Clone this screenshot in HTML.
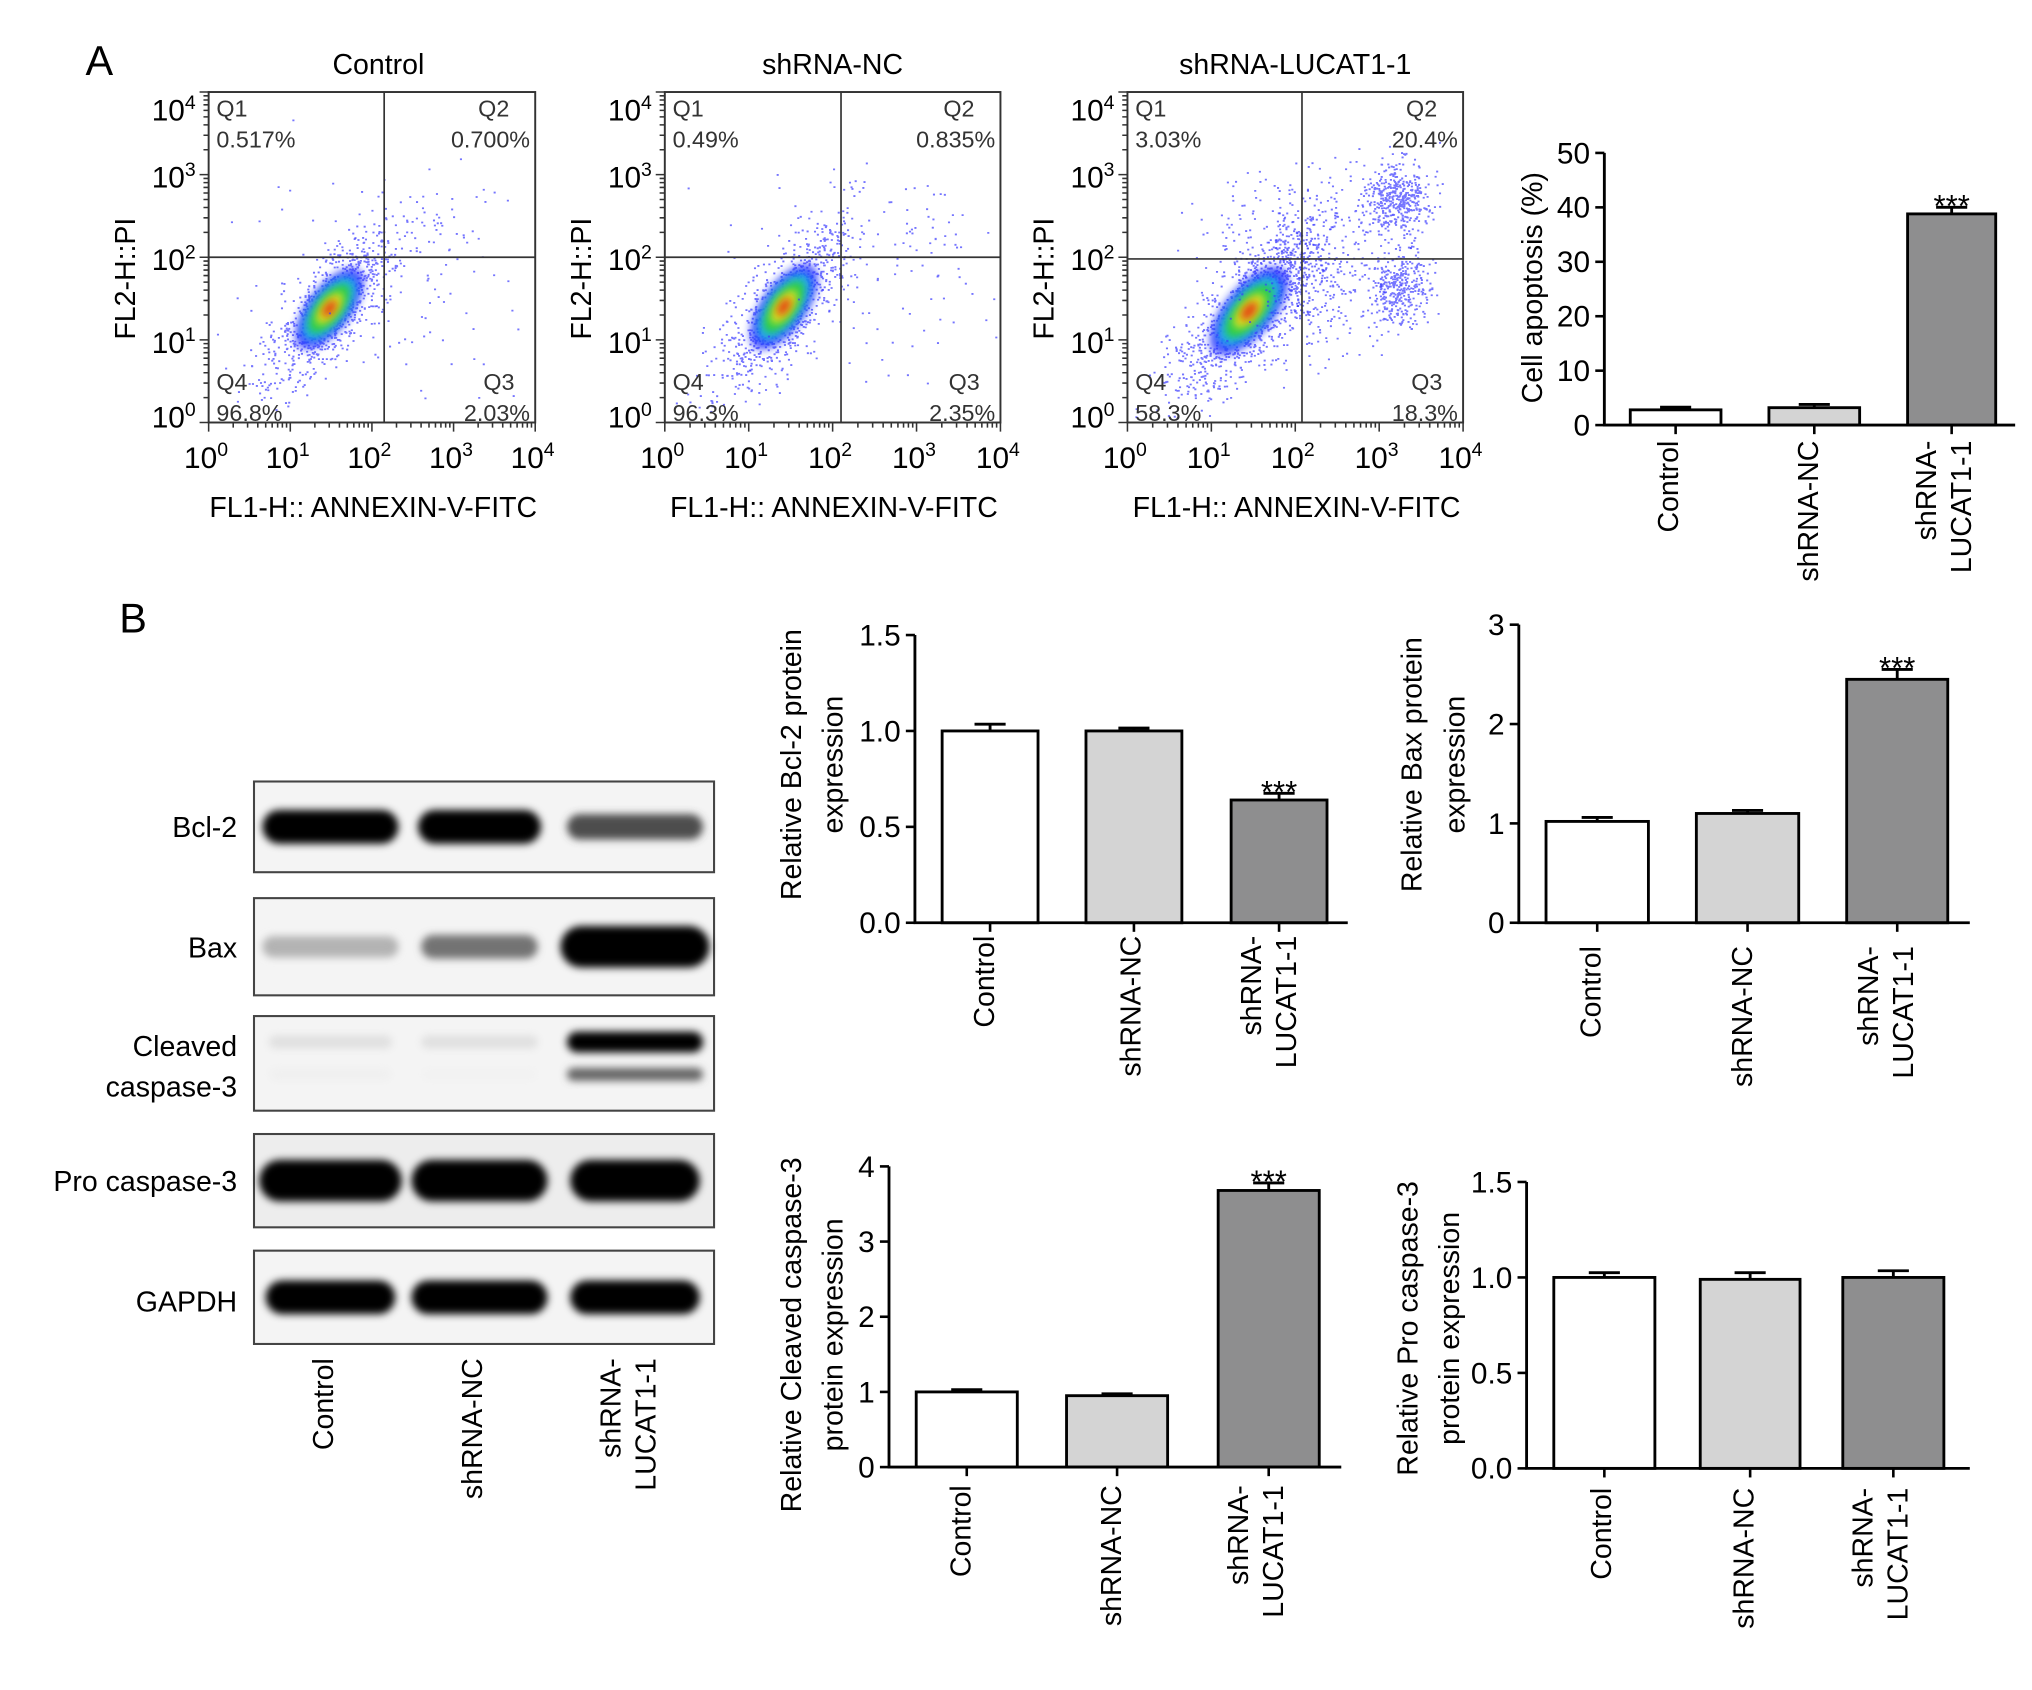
<!DOCTYPE html>
<html><head><meta charset="utf-8"><style>
html,body{margin:0;padding:0;background:#fff;}
svg{display:block;font-family:"Liberation Sans",Arial,sans-serif;}
</style></head><body>
<svg id="fig" width="2032" height="1690" viewBox="0 0 1568 1304" preserveAspectRatio="none" xmlns="http://www.w3.org/2000/svg">
<defs>
<filter id="blur2" x="-30%" y="-60%" width="160%" height="220%"><feGaussianBlur stdDeviation="3"/></filter>
<filter id="blur4" x="-50%" y="-50%" width="200%" height="200%"><feGaussianBlur stdDeviation="5"/></filter>
</defs>
<rect width="1568" height="1304" fill="#fff"/>
<text x="66" y="58" font-size="32">A</text>
<text x="92" y="488" font-size="32">B</text>
<g id="flow"></g>
<g id="blot"></g>
<g id="bars"></g>
</svg>
<script>
const NS="http://www.w3.org/2000/svg";
function mk(parent,tag,attrs,txt){const e=document.createElementNS(NS,tag);for(const k in attrs)e.setAttribute(k,attrs[k]);if(txt!==undefined)e.textContent=txt;parent.appendChild(e);return e;}

/* ---------------- Flow cytometry data ---------------- */
const flowTitles=["Control","shRNA-NC","shRNA-LUCAT1-1"];
const flowQ1=["0.517%","0.49%","3.03%"];
const flowQ2=["0.700%","0.835%","20.4%"];
const flowQ3=["2.03%","2.35%","18.3%"];
const flowQ4=["96.8%","96.3%","58.3%"];
const flowGateX=[2.15,2.1,2.08];
const flowGateY=[2.0,2.0,1.98];
// clusters: [plot, logx, logy, spreadMajor(decades), spreadMinor, angleDeg, count, core]
const flowClusters=[
 [0,1.48,1.38,0.6,0.22,-52,900,1],[0,2.9,2.4,0.35,0.3,0,40,0],[0,2.5,1.3,0.8,0.6,0,60,0],[0,1.3,2.4,0.6,0.4,0,15,0],
 [1,1.42,1.4,0.6,0.22,-55,900,1],[1,3.0,2.3,0.4,0.35,0,40,0],[1,2.7,1.4,0.7,0.5,0,60,0],[1,1.4,2.4,0.6,0.4,0,15,0],
 [2,1.45,1.35,0.65,0.24,-50,1100,1],[2,3.2,2.72,0.2,0.22,0,450,0],[2,3.25,1.62,0.18,0.22,0,350,0],[2,1.8,2.2,0.5,0.4,0,220,0],[2,2.3,1.6,0.45,0.45,0,250,0]
];
const flowBoxes=[[161,413,71,326],[513,772,71,326],[870,1129,71,326]];

let seed=12345;function rnd(){seed=(seed*1103515245+12345)%2147483648;return seed/2147483648;}
function gauss(){let u=rnd()||1e-6,v=rnd();return Math.sqrt(-2*Math.log(u))*Math.cos(2*Math.PI*v);}

const flow=document.getElementById('flow');
flowBoxes.forEach((b,i)=>{
 const [x0,x1,y0,y1]=b;const dx=(x1-x0)/4,dy=(y1-y0)/4;
 const sx=l=>x0+l*dx, sy=l=>y1-l*dy;
 const g=mk(flow,'g',{});
 
 
 const t=mk(g,'text',{x:(x0+x1)/2+(i==0?5:0),y:57,'font-size':22,'text-anchor':'middle'},flowTitles[i]);
 
 
 const dots=mk(g,'g',{});
 
 
 flowClusters.filter(c=>c[0]===i).forEach(c=>{
  const [p,lx,ly,sa,sb,ang,n,core]=c;const a=ang*Math.PI/180;
  let s='';
  for(let k=0;k<n;k++){const u=gauss()*sa,v=gauss()*sb;const X=lx+u*Math.cos(a)-v*Math.sin(a);const Y=ly-(u*Math.sin(a)+v*Math.cos(a));
   if(X<0.05||X>3.95||Y<0.05||Y>3.95)continue;s+=`M${sx(X).toFixed(1)} ${sy(Y).toFixed(1)}h1.6`;}
  mk(dots,'path',{d:s,stroke:'#3a3aff','stroke-width':1.4,'stroke-opacity':0.7});
  if(core){
   const cx=sx(lx),cy=sy(ly);
   const layers=[[sa*0.9,sb*1.1,'#2030ff',0.8],[sa*0.7,sb*0.85,'#18b8e8',0.9],[sa*0.55,sb*0.65,'#30d040',0.95],[sa*0.35,sb*0.45,'#e8e020',0.9],[sa*0.18,sb*0.25,'#e83010',0.9]];
   layers.forEach(L=>{mk(dots,'ellipse',{cx:cx,cy:cy,rx:L[0]*dx*1.1,ry:L[1]*dx*1.1,fill:L[2],'fill-opacity':L[3],transform:`rotate(${ang} ${cx} ${cy})`,filter:'url(#blur2)'});});
  }
 });
 const box=mk(g,'rect',{x:x0,y:y0,width:x1-x0,height:y1-y0,fill:'none',stroke:'#333','stroke-width':1.5});
 
 
 mk(g,'line',{x1:sx(flowGateX[i]),x2:sx(flowGateX[i]),y1:y0,y2:y1,stroke:'#333','stroke-width':1.3});
 mk(g,'line',{x1:x0,x2:x1,y1:sy(flowGateY[i]),y2:sy(flowGateY[i]),stroke:'#333','stroke-width':1.3});
 let tk='';
 for(let d=0;d<4;d++)for(let m=1;m<10;m++){const l=d+Math.log10(m);const len=m==1?7:4;tk+=`M${sx(l)} ${y1}v${len}M${x0} ${sy(l)}h-${len}`;}
 tk+=`M${x1} ${y1}v7M${x0} ${y0}h-7`;
 mk(g,'path',{d:tk,stroke:'#333','stroke-width':1.2,fill:'none'});
 const ql=[["Q1",flowQ1[i],x0+6,'start',86],["Q2",flowQ2[i],x1-4,'end',86],["Q4",flowQ4[i],x0+6,'start',297],["Q3",flowQ3[i],x1-4,'end',297]];
 ql.forEach(q=>{
  const a=mk(g,'text',{x:q[3]=='end'?q[2]-(q[0]=='Q3'?36:40):q[2],y:q[4]+4,'font-size':18,fill:'#333'},q[0]);
  
  
  const b2=mk(g,'text',{x:q[2],y:q[4]+28,'font-size':18,'text-anchor':q[3],fill:'#333'},q[1]);
  
  
 });
 for(let d=0;d<=4;d++){
  const yt=mk(g,'text',{x:x0-10,y:sy(d)+(d==4?22:d==0?4:10),'font-size':23,'text-anchor':'end'});
  
  
  yt.textContent='10';mk(yt,'tspan',{dy:-9,'font-size':15},String(d));
  const xt=mk(g,'text',{x:sx(d)-2,y:361,'font-size':23,'text-anchor':'middle'});
  
  
  xt.textContent='10';mk(xt,'tspan',{dy:-9,'font-size':15},String(d));
 }
 const xtit=mk(g,'text',{x:(x0+x1)/2+1,y:399,'font-size':22,'text-anchor':'middle'},'FL1-H:: ANNEXIN-V-FITC');
 
 
 const ytit=mk(g,'text',{x:0,y:0,'font-size':22,'text-anchor':'middle',transform:`translate(${x0-57} ${215}) rotate(-90)`},'FL2-H::PI');
 
 
});

/* ---------------- Western blot ---------------- */
const blotRows=["Bcl-2","Bax","Cleaved caspase-3","Pro caspase-3","GAPDH"];
const blotBoxY=[[603,673],[693,768],[784,857],[875,947],[965,1037]];
const blotBand=[[1,1,0.7],[0.3,0.55,1],[0.12,0.12,1],[1,1,1],[1,1,1]];
const blotLower=[0.06,0.05,0.6];
const laneX=[255,370,490];
const laneW=[[105,95,105],[105,90,115],[95,90,105],[110,105,100],[100,105,100]];
const blot=document.getElementById('blot');
blotRows.forEach((r,i)=>{
 const [ya,yb]=blotBoxY[i];
 const g=mk(blot,'g',{});
 
 
 mk(g,'rect',{x:196,y:ya,width:355,height:yb-ya,fill:i==3?'#ededed':'#f4f4f4',stroke:'#444','stroke-width':1.6});
 const yc=(ya+yb)/2;
 laneX.forEach((lx,j)=>{
  const v=blotBand[i][j];const w=laneW[i][j];
  let bh=v>0.9?26:14+v*8; let by=yc;
  if(i==2){by=ya+20;bh=v>0.9?16:10;}
  if(i==1&&j==2)bh=32;
  if(i==3)bh=32;
  const gv=Math.round(255*(1-v));
  mk(g,'rect',{x:lx-w/2,y:by-bh/2,width:w,height:bh,rx:bh/2,fill:`rgb(${gv},${gv},${gv})`,filter:'url(#blur2)'});
  if(i==2){const lv=blotLower[j];const gl=Math.round(255*(1-lv));mk(g,'rect',{x:lx-w/2,y:ya+40,width:w,height:10,rx:5,fill:`rgb(${gl},${gl},${gl})`,filter:'url(#blur2)'});}
 });
});
[["Bcl-2",646],["Bax",739],["Cleaved",815],["caspase-3",846],["Pro caspase-3",919],["GAPDH",1012]].forEach(l=>{
 const t=mk(blot,'text',{x:183,y:l[1],'font-size':22,'text-anchor':'end'},l[0]);
 
 
});
const groupNames=["Control","shRNA-NC","shRNA-LUCAT1-1"];
function rotLabel(parent,cx,ytop,idx){
 if(idx<2){const t=mk(parent,'text',{x:0,y:0,'font-size':22,'text-anchor':'end',transform:`translate(${cx+7} ${ytop}) rotate(-90)`},groupNames[idx]);
  
  }
 else{const t=mk(parent,'text',{x:0,y:0,'font-size':22,'text-anchor':'end',transform:`translate(${cx-6} ${ytop}) rotate(-90)`},'shRNA-');
  
  
  const t2=mk(parent,'text',{x:0,y:0,'font-size':22,'text-anchor':'end',transform:`translate(${cx+21} ${ytop}) rotate(-90)`},'LUCAT1-1');
  
  }
}
laneX.forEach((x,i)=>rotLabel(blot,x-5,1048,i));

/* ---------------- Bar charts ---------------- */
const barFills=["#ffffff","#d4d4d4","#8e8e8f"];
const apopMeans=[2.8,3.2,38.8]; const apopErr=[0.5,0.6,1.2]; const apopTicks=[0,10,20,30,40,50];
const bcl2Means=[1.0,1.0,0.64]; const bcl2Err=[0.035,0.015,0.035]; const bcl2Ticks=["0.0","0.5","1.0","1.5"];
const baxMeans=[1.02,1.1,2.45]; const baxErr=[0.04,0.03,0.1]; const baxTicks=["0","1","2","3"];
const clvMeans=[1.0,0.95,3.68]; const clvErr=[0.03,0.025,0.1]; const clvTicks=["0","1","2","3","4"];
const proMeans=[1.0,0.99,1.0]; const proErr=[0.025,0.035,0.035]; const proTicks=["0.0","0.5","1.0","1.5"];
const sigStars=["","","***"];

const charts=[
 {name:'apoptosis-chart',ax:1238,yTop:118,yBot:328,xEnd:1555,max:50,ticks:apopTicks,means:apopMeans,err:apopErr,bars:[[1258,1328],[1365,1435],[1472,1540]],title:["Cell apoptosis (%)"],tx:[1183],tcy:222,stars:sigStars,labelTop:340,labelX:[1292,1400,1504]},
 {name:'bcl2-chart',ax:706,yTop:490,yBot:712,xEnd:1040,max:1.5,ticks:bcl2Ticks,means:bcl2Means,err:bcl2Err,bars:[[727,801],[838,912],[950,1024]],title:["Relative Bcl-2 protein","expression"],tx:[611,643],tcy:590,stars:sigStars,labelTop:722,labelX:[764,877,983]},
 {name:'bax-chart',ax:1172,yTop:482,yBot:712,xEnd:1520,max:3,ticks:baxTicks,means:baxMeans,err:baxErr,bars:[[1193,1272],[1309,1388],[1425,1503]],title:["Relative Bax protein","expression"],tx:[1090,1123],tcy:590,stars:sigStars,labelTop:730,labelX:[1232,1349,1459]},
 {name:'cleaved-caspase3-chart',ax:686,yTop:900,yBot:1132,xEnd:1035,max:4,ticks:clvTicks,means:clvMeans,err:clvErr,bars:[[707,785],[823,901],[940,1018]],title:["Relative Cleaved caspase-3","protein expression"],tx:[611,643],tcy:1030,stars:sigStars,labelTop:1146,labelX:[746,862,973]},
 {name:'pro-caspase3-chart',ax:1178,yTop:912,yBot:1133,xEnd:1520,max:1.5,ticks:proTicks,means:proMeans,err:proErr,bars:[[1199,1277],[1312,1389],[1422,1500]],title:["Relative Pro caspase-3","protein expression"],tx:[1087,1119],tcy:1025,stars:["","",""],labelTop:1148,labelX:[1240,1350,1455]}
];
const barsG=document.getElementById('bars');
charts.forEach(c=>{
 const g=mk(barsG,'g',{});
 
 
 const sy=v=>c.yBot-(v/c.max)*(c.yBot-c.yTop);
 c.means.forEach((m,i)=>{
  const [xa,xb]=c.bars[i];const xm=(xa+xb)/2;
  const r=mk(g,'rect',{x:xa,y:sy(m),width:xb-xa,height:c.yBot-sy(m),fill:barFills[i],stroke:'#000','stroke-width':2.2});
  
  
  const et=sy(m+c.err[i]);
  const eb=mk(g,'path',{d:`M${xm} ${sy(m)}V${et}M${xm-12} ${et}H${xm+12}`,stroke:'#000','stroke-width':2.2,fill:'none'});
  
  
  if(c.stars[i]){const st=mk(g,'text',{x:xm,y:et+7,'font-size':24,'text-anchor':'middle'},c.stars[i]);
   
   }
  mk(g,'line',{x1:xm,x2:xm,y1:c.yBot,y2:c.yBot+7,stroke:'#000','stroke-width':2});
 });
 mk(g,'path',{d:`M${c.ax} ${c.yTop}V${c.yBot}H${c.xEnd}`,stroke:'#000','stroke-width':2.2,fill:'none'});
 c.ticks.forEach(t=>{
  const y=sy(parseFloat(t));
  mk(g,'line',{x1:c.ax-7,x2:c.ax,y1:y,y2:y,stroke:'#000','stroke-width':2});
  const tl=mk(g,'text',{x:c.ax-11,y:y+8,'font-size':23,'text-anchor':'end'},String(t));
  
  
 });
 c.title.forEach((tt,k)=>{
  const ti=mk(g,'text',{x:0,y:0,'font-size':22,'text-anchor':'middle',transform:`translate(${c.tx[k]+7} ${c.tcy}) rotate(-90)`},tt);
  
  
 });
 c.labelX.forEach((x,i)=>rotLabel(g,x-4,c.labelTop,i));
});
</script>
</body></html>
